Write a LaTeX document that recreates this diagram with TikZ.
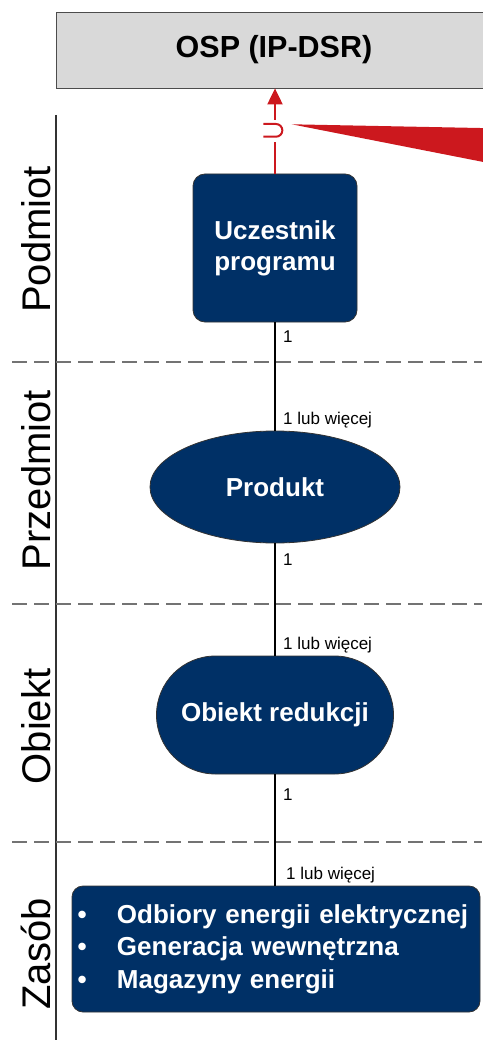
\documentclass[tikz,border=0pt]{standalone}
\usepackage{fontspec}
\setmainfont{Liberation Sans}
\usetikzlibrary{shapes.geometric,arrows.meta}
\definecolor{navy}{RGB}{0,48,102}
\definecolor{ospgray}{RGB}{217,217,217}
\definecolor{ifred}{RGB}{204,24,30}

\begin{document}
\begin{tikzpicture}
	[x=1pt,y=-1pt,
	headbox/.style = {
		draw=black!70, fill=ospgray, line width=0.8,
		minimum width = 436pt,
		minimum height = 76pt,
		font=\fontsize{30.5}{36}\selectfont\bfseries
	},
	navybox/.style = {
		draw=black!80, fill=navy, text=white, line width=0.8,
		inner sep=0pt,
		font=\fontsize{26}{31}\selectfont\bfseries
	},
	subjbox/.style = {
		navybox, rounded corners=12pt, align=center,
		minimum width = 164pt,
		minimum height = 148pt
	},
	prodbox/.style = {
		navybox, ellipse,
		minimum width = 250pt,
		minimum height = 112pt
	},
	objbox/.style = {
		navybox, rounded corners=58.9pt,
		minimum width = 237pt,
		minimum height = 118pt
	},
	resbox/.style = {
		navybox, rounded corners=11pt, align=left,
		inner xsep=5.5pt,
		text width = 397pt,
		minimum height = 126pt,
		font=\fontsize{26}{32.5}\selectfont\bfseries
	},
	lane/.style = {
		rotate=90, anchor=base, inner sep=0pt,
		font=\fontsize{40}{48}\selectfont
	},
	mult/.style = {
		anchor=base west, inner sep=0pt,
		font=\fontsize{17}{20}\selectfont
	},
	wire/.style = {
		line width=1.5, black
	},
	ifwire/.style = {
		line width=2, ifred
	},
	laneline/.style = {
		line width=2, black!80
	},
	sep/.style = {
		line width=1.3, black!55, dash pattern=on 15pt off 7pt
	}]
	
	\useasboundingbox (0,0) rectangle (482,1040);
	
	%Draw lanes
	\draw[laneline] (56,115) -- (56,1040);
	\draw[sep] (12,362) -- (482,362);
	\draw[sep] (12,604) -- (482,604);
	\draw[sep] (12,842) -- (482,842);
	
	\node[lane] at (50,239.5) (lpod) {Podmiot};
	\node[lane] at (50,480) (lprz) {Przedmiot};
	\node[lane] at (50,726.5) (lobi) {Obiekt};
	\node[lane] at (50,954) (lzas) {Zasób};
	
	%Draw nodes
	\node[headbox] at (274,50) (osp) {OSP (IP-DSR)};
	\node[subjbox] at (275,248) (ucz) {Uczestnik\\programu};
	\node[prodbox] at (275,487) (prod) {Produkt};
	\node[objbox] at (275,715) (obj) {Obiekt redukcji};
	\node[resbox] at (276,949) (zas) {%
		\makebox[39.5pt][l]{\textbullet}Odbiory energii elektrycznej\\
		\makebox[39.5pt][l]{\textbullet}Generacja wewnętrzna\\
		\makebox[39.5pt][l]{\textbullet}Magazyny energii};
	
	\node[mult] at (283,342) (m1) {1};
	\node[mult] at (283,424) (m2) {1 lub więcej};
	\node[mult] at (283,565) (m3) {1};
	\node[mult] at (283,649) (m4) {1 lub więcej};
	\node[mult] at (283,800) (m5) {1};
	\node[mult] at (286,879) (m6) {1 lub więcej};
	
	\coordinate(ifbot) at (275,141.7);
	\coordinate(iftop) at (275,120);
	
	%Draw wires
	\draw[wire] (ucz) -- (prod);
	\draw[wire] (prod) -- (obj);
	\draw[wire] (obj.south) -- (obj.south |- zas.north);
	
	\draw[ifwire] (ucz) -- (ifbot);
	\draw[ifwire,-{Triangle[length=16pt,width=15pt]}] (iftop) -- (iftop |- osp.south);
	\draw[ifwire] (263.3,124) -- (276,124) arc[start angle=-90, end angle=90, radius=6.35] -- (263.3,136.7);
	\fill[ifred] (291.7,124.3) -- (490,128.2) -- (490,163.3) -- cycle;
	
\end{tikzpicture}
\end{document}
